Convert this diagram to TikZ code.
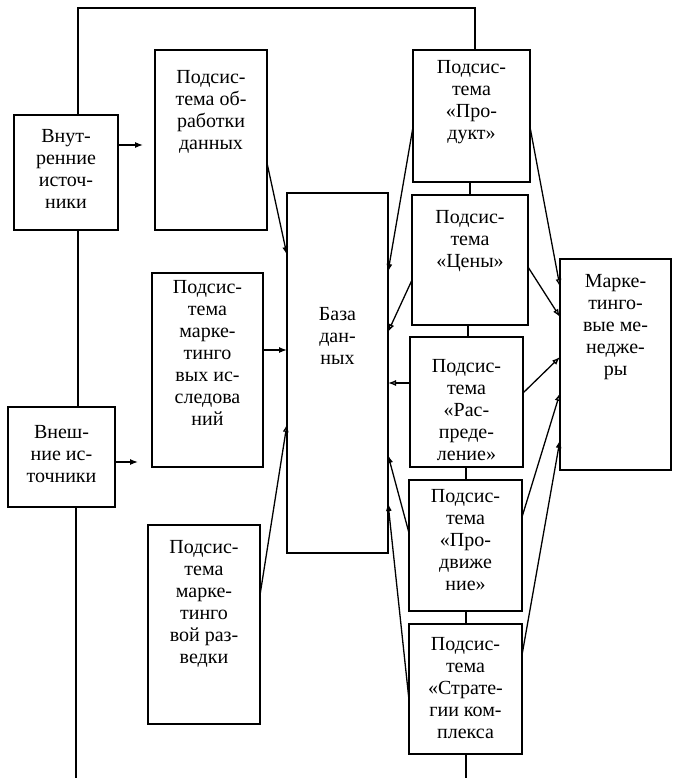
\documentclass[tikz,border=0pt]{standalone}
\usepackage{fontspec}
\setmainfont{Liberation Serif}
\usetikzlibrary{arrows.meta}
\tikzset{
  box/.style={draw, line width=1.7pt, inner sep=0pt, outer sep=0pt},
  lbl/.style={align=center, inner sep=0pt, anchor=north, font=\fontsize{20}{22}\selectfont},
  conn/.style={line width=1.3pt},
  arr/.style={conn, -{Latex[length=8pt,width=6pt]}},
  oarr/.style={conn, -{Latex[open,length=8pt,width=6pt]}}
}
\begin{document}
\begin{tikzpicture}[x=1pt,y=-1pt]
\useasboundingbox (0,0) rectangle (673,778);
% boxes
\node[box, minimum width=104pt, minimum height=115pt] (vnut)  at (66,172.5) {};
\node[box, minimum width=107pt, minimum height=100pt] (vnesh) at (61.5,457) {};
\node[box, minimum width=112pt, minimum height=180pt] (obr)   at (211,140) {};
\node[box, minimum width=111pt, minimum height=194pt] (issl)  at (207.5,370) {};
\node[box, minimum width=112pt, minimum height=199pt] (razv)  at (204,624.5) {};
\node[box, minimum width=101pt, minimum height=360pt] (baza)  at (337.5,373) {};
\node[box, minimum width=117pt, minimum height=132pt] (prod)  at (471.5,116) {};
\node[box, minimum width=116pt, minimum height=130pt] (ceny)  at (470,260) {};
\node[box, minimum width=113pt, minimum height=130pt] (rasp)  at (466.5,402) {};
\node[box, minimum width=113pt, minimum height=131pt] (prodv) at (465.5,545.5) {};
\node[box, minimum width=113pt, minimum height=130pt] (strat) at (465.5,689) {};
\node[box, minimum width=111pt, minimum height=211pt] (men)   at (615.5,364.5) {};
% labels
\node[lbl] (vnutT)  at (66,129)   {Внут-\\ренние\\источ-\\ники};
\node[lbl] (vneshT) at (61.5,425) {Внеш-\\ние ис-\\точники};
\node[lbl] (obrT)   at (211,70)   {Подсис-\\тема об-\\работки\\данных};
\node[lbl] (isslT)  at (207.5,280) {Подсис-\\тема\\марке-\\тинго\\вых ис-\\следова\\ний};
\node[lbl] (razvT)  at (204,540)  {Подсис-\\тема\\марке-\\тинго\\вой раз-\\ведки};
\node[lbl] (bazaT)  at (337.5,307) {База\\дан-\\ных};
\node[lbl] (prodT)  at (471.5,60) {Подсис-\\тема\\«Про-\\дукт»};
\node[lbl] (cenyT)  at (470,210)  {Подсис-\\тема\\«Цены»};
\node[lbl] (raspT)  at (466.5,359) {Подсис-\\тема\\«Рас-\\преде-\\ление»};
\node[lbl] (prodvT) at (465.5,489) {Подсис-\\тема\\«Про-\\движе\\ние»};
\node[lbl] (stratT) at (465.5,637) {Подсис-\\тема\\«Страте-\\гии ком-\\плекса};
\node[lbl] (menT)   at (615.5,274) {Марке-\\тинго-\\вые ме-\\недже-\\ры};
% frame lines
\coordinate (bl) at (76,778);
\coordinate (tl) at (78,8);
\coordinate (tr) at (475,8);
\coordinate (br) at (466,778);
\draw[conn] (bl) -- (bl |- vnesh.south);
\draw[conn] (78,0 |- vnesh.north) -- (78,0 |- vnut.south);
\draw[conn] (78,0 |- vnut.north) -- (tl) -- (tr) -- (tr |- prod.north);
\draw[conn] (prod.south -| 470,0) -- (ceny.north -| 470,0);
\draw[conn] (ceny.south -| 468,0) -- (rasp.north -| 468,0);
\draw[conn] (rasp.south -| 466,0) -- (prodv.north -| 466,0);
\draw[conn] (prodv.south -| 466,0) -- (strat.north -| 466,0);
\draw[conn] (strat.south -| br) -- (br);
% inputs
\coordinate (in1) at (143,145);
\coordinate (in2) at (138,462);
\draw[arr] (vnut.east |- in1) -- (in1);
\draw[arr] (vnesh.east |- in2) -- (in2);
% left subsystems -> base
\draw[arr]  (obr.east |- 0,163)  -- (baza.west |- 0,255);
\draw[arr]  (issl.east |- 0,350) -- (baza.west |- 0,350);
\draw[oarr] (razv.east |- 0,595) -- (baza.west |- 0,424);
% right subsystems -> base
\draw[arr]  (prod.west |- 0,127)  -- (baza.east |- 0,272);
\draw[oarr] (ceny.west |- 0,280)  -- (baza.east |- 0,332);
\draw[oarr] (rasp.west |- 0,383)  -- (baza.east |- 0,383);
\draw[arr]  (prodv.west |- 0,533) -- (baza.east |- 0,455);
\draw[arr]  (strat.west |- 0,700) -- (baza.east |- 0,503);
% right subsystems -> managers
\draw[oarr] (prod.east |- 0,127)  -- (men.west |- 0,287);
\draw[oarr] (ceny.east |- 0,267)  -- (men.west |- 0,317);
\draw[oarr] (rasp.east |- 0,393)  -- (men.west |- 0,357);
\draw[oarr] (prodv.east |- 0,517) -- (men.west |- 0,393);
\draw[arr]  (strat.east |- 0,655) -- (men.west |- 0,440);
\end{tikzpicture}
\end{document}
